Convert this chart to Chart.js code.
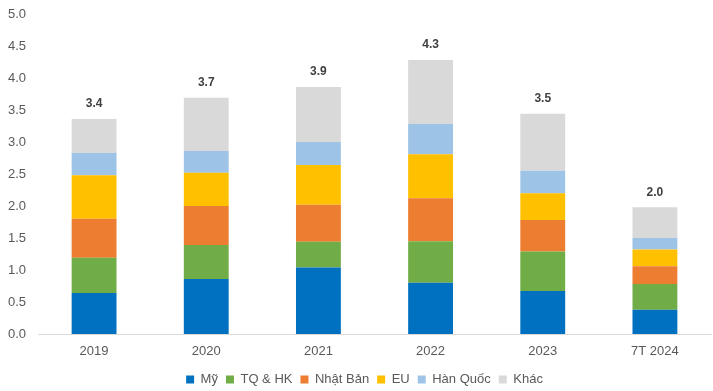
<!DOCTYPE html>
<html>
<head>
<meta charset="utf-8">
<script src="https://cdn.jsdelivr.net/npm/chart.js@4"></script>
<style>
  body { margin: 0; background: #fff; }
  #wrap { position: relative; width: 713px; height: 391px; }
</style>
</head>
<body>
<div id="wrap"><canvas id="chart"></canvas></div>
<script>
const years = ['2019', '2020', '2021', '2022', '2023', '7T 2024'];
const my = [0.64, 0.86, 1.04, 0.80, 0.67, 0.38];
const tqHk = [0.55, 0.53, 0.40, 0.65, 0.62, 0.40];
const nhatBan = [0.61, 0.61, 0.58, 0.67, 0.49, 0.28];
const eu = [0.68, 0.52, 0.62, 0.69, 0.42, 0.26];
const hanQuoc = [0.35, 0.34, 0.36, 0.47, 0.35, 0.18];
const khac = [0.53, 0.83, 0.86, 1.00, 0.89, 0.48];
const totals = ['3.4', '3.7', '3.9', '4.3', '3.5', '2.0'];

const yTicks = [0, 0.5, 1, 1.5, 2, 2.5, 3, 3.5, 4, 4.5, 5];

// ghi tổng trên đầu mỗi cột
const totalLabels = {
    id: 'totalLabels',
    afterDatasetsDraw(chart) {
        const ctx = chart.ctx;
        const yScale = chart.scales.y;
        const meta = chart.getDatasetMeta(0);
        ctx.save();
        ctx.font = 'bold 12px "Liberation Sans", Arial, sans-serif';
        ctx.fillStyle = '#404040';
        ctx.textAlign = 'center';
        ctx.textBaseline = 'middle';
        meta.data.forEach((bar, i) => {
            let sum = 0;
            chart.data.datasets.forEach(ds => { sum += ds.data[i]; });
            ctx.fillText(totals[i], bar.x, yScale.getPixelForValue(sum) - 15);
        });
        ctx.restore();
    }
};

// chú thích lệch phải một chút như bản gốc
const shiftLegend = {
    id: 'shiftLegend',
    afterLayout(chart) {
        chart.legend.left += 9;
        chart.legend.right += 9;
    }
};

Chart.defaults.font.family = '"Liberation Sans", Arial, sans-serif';
Chart.defaults.font.size = 13;
Chart.defaults.color = '#595959';

const mkSet = (label, data, color) => ({
    label: label,
    data: data,
    backgroundColor: color,
    borderWidth: 0,
    barPercentage: 0.8,
    categoryPercentage: 0.5
});

new Chart(document.getElementById('chart'), {
    type: 'bar',
    data: {
        labels: years,
        datasets: [
            mkSet('Mỹ', my, '#0070C0'),
            mkSet('TQ & HK', tqHk, '#70AD47'),
            mkSet('Nhật Bản', nhatBan, '#ED7D31'),
            mkSet('EU', eu, '#FFC000'),
            mkSet('Hàn Quốc', hanQuoc, '#9DC3E6'),
            mkSet('Khác', khac, '#D9D9D9')
        ]
    },
    options: {
        responsive: true,
        maintainAspectRatio: false,
        animation: false,
        layout: { padding: { top: 14, right: 2, left: 0, bottom: -5 } },
        plugins: {
            legend: {
                position: 'bottom',
                labels: {
                    boxWidth: 8,
                    boxHeight: 8,
                    padding: 8,
                    color: '#595959',
                    font: { size: 13 }
                }
            },
            tooltip: { enabled: false }
        },
        scales: {
            x: {
                stacked: true,
                grid: { display: false, drawTicks: false },
                border: { color: '#D9D9D9', width: 1 },
                ticks: { padding: 10, color: '#595959', font: { size: 13 } },
                afterFit(scale) { scale.height = 31; }
            },
            y: {
                stacked: true,
                min: 0,
                max: 5,
                grid: { display: false, drawTicks: false },
                border: { display: false },
                afterBuildTicks(scale) { scale.ticks = yTicks.map(v => ({ value: v })); },
                ticks: {
                    padding: 12,
                    color: '#595959',
                    font: { size: 13 },
                    callback: v => v.toFixed(1)
                },
                afterFit(scale) {
                    scale.width = 38;
                    scale.paddingTop = 0;
                    scale.paddingBottom = 0;
                }
            }
        }
    },
    plugins: [totalLabels, shiftLegend]
});
</script>
</body>
</html>
